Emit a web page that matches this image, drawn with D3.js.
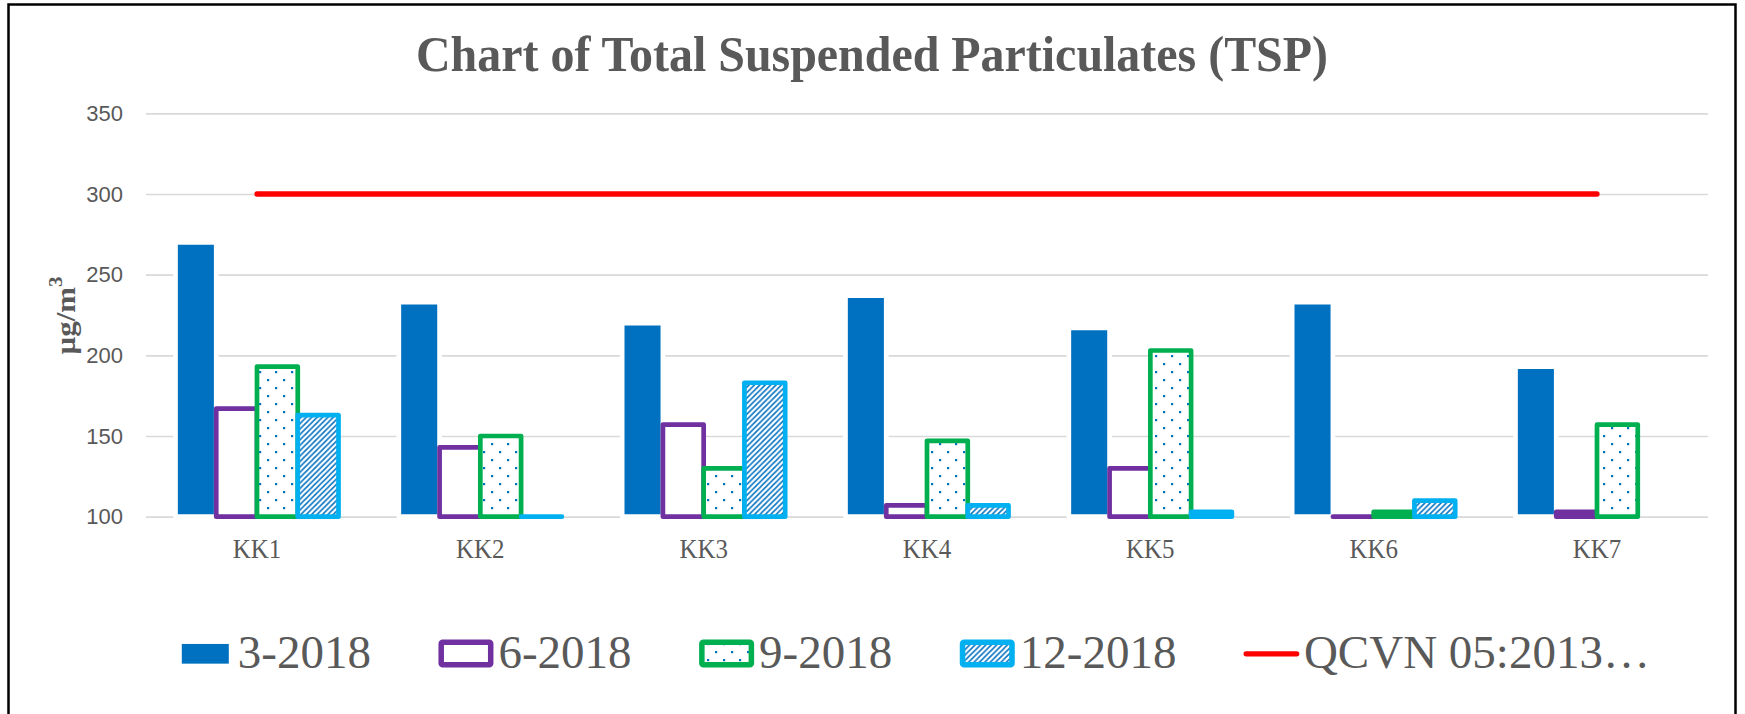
<!DOCTYPE html>
<html>
<head>
<meta charset="utf-8">
<script src="https://cdn.jsdelivr.net/npm/d3@7"></script>
<style>
  html, body { margin: 0; padding: 0; background: #ffffff; }
  svg { display: block; }
</style>
</head>
<body>
<svg id="chart" width="1745" height="714"></svg>
<script>
// ---------------- DATA ----------------
const categories = ["KK1", "KK2", "KK3", "KK4", "KK5", "KK6", "KK7"];
const seriesNames = ["3-2018", "6-2018", "9-2018", "12-2018"];
const values_3_2018  = [270, 233, 220, 237, 217, 233, 193];
const values_6_2018  = [167, 143, 157, 107, 130, 100, 103];
const values_9_2018  = [193, 150, 130, 147, 203, 103, 157];
const values_12_2018 = [163, 100, 183, 107, 103, 110, null];
const qcvnName = "QCVN 05:2013…";
const qcvnValues = [300, 300, 300, 300, 300, 300, 300];
const yTicks = [100, 150, 200, 250, 300, 350];
const titleText = "Chart of Total Suspended Particulates (TSP)";
const yTitleBase = "µg/m";
const yTitleSup = "3";

const seriesValues = [values_3_2018, values_6_2018, values_9_2018, values_12_2018];

// ---------------- STYLE ----------------
const textColor = "#595959";
const gridColor = "#D9D9D9";
const seriesStyle = [
  { fill: "#0070C0", stroke: "#FFFFFF" },
  { fill: "#FFFFFF", stroke: "#7030A0" },
  { fill: "url(#dots)", stroke: "#00B050" },
  { fill: "url(#hatch)", stroke: "#00B0F0" }
];
const barStroke = 4.7;

const svg = d3.select("#chart");
const W = 1745, H = 714;
svg.append("rect").attr("width", W).attr("height", H).attr("fill", "#fff");

// patterns
const defs = svg.append("defs");
const dots = defs.append("pattern").attr("id", "dots")
  .attr("patternUnits", "userSpaceOnUse").attr("width", 16).attr("height", 16);
dots.append("rect").attr("width", 16).attr("height", 16).attr("fill", "#fff");
dots.append("rect").attr("x", 3).attr("y", 3).attr("width", 2.2).attr("height", 2.2).attr("fill", "#0070C0");
dots.append("rect").attr("x", 11).attr("y", 11).attr("width", 2.2).attr("height", 2.2).attr("fill", "#0070C0");

const hs = 5.4;
const hatch = defs.append("pattern").attr("id", "hatch")
  .attr("patternUnits", "userSpaceOnUse").attr("width", hs).attr("height", hs);
hatch.append("rect").attr("width", hs).attr("height", hs).attr("fill", "#fff");
hatch.append("path")
  .attr("d", `M${-hs/2},${hs/2} L${hs/2},${-hs/2} M0,${hs} L${hs},0 M${hs/2},${hs*1.5} L${hs*1.5},${hs/2}`)
  .attr("stroke", "#0070C0").attr("stroke-width", 1.5);

// border
svg.append("rect").attr("x", 8.5).attr("y", 4.5).attr("width", 1727).attr("height", 730)
  .attr("fill", "none").attr("stroke", "#000").attr("stroke-width", 2.5);

// ---------------- SCALES ----------------
const plotLeft = 146, plotRight = 1708, plotTop = 113.3, plotBottom = 516.7;
const y = d3.scaleLinear().domain([100, 350]).range([plotBottom, plotTop]);
const x0 = d3.scaleBand().domain(categories).range([plotLeft, plotRight])
  .paddingInner(0.27).paddingOuter(0.132);
const x1 = d3.scaleBand().domain(seriesNames).range([0, x0.bandwidth()]).padding(0);

// ---------------- GRID + Y AXIS ----------------
const yAxis = d3.axisLeft(y).tickValues(yTicks)
  .tickSize(-(plotRight - plotLeft)).tickPadding(23).tickFormat(d3.format("d"));
const gy = svg.append("g").attr("transform", `translate(${plotLeft},0)`).call(yAxis);
gy.select(".domain").remove();
gy.selectAll(".tick line").attr("stroke", gridColor).attr("stroke-width", 1.7);
gy.selectAll(".tick text")
  .attr("fill", textColor)
  .style("font-family", "'Liberation Sans', Arial, sans-serif")
  .style("font-size", "22px");

// ---------------- BARS ----------------
function barPath(x, yTop, w, yBase) {
  return `M${x},${yBase} L${x},${yTop} L${x + w},${yTop} L${x + w},${yBase} Z`;
}
const gBars = svg.append("g");
categories.forEach((cat, ci) => {
  seriesNames.forEach((s, si) => {
    const v = seriesValues[si][ci];
    if (v === null || v === undefined) return;
    const bx = x0(cat) + x1(s);
    gBars.append("path")
      .attr("d", barPath(bx, y(v), x1.bandwidth(), y(100)))
      .attr("fill", seriesStyle[si].fill)
      .attr("stroke", seriesStyle[si].stroke)
      .attr("stroke-width", barStroke)
      .attr("stroke-linejoin", "round");
  });
});

// ---------------- QCVN LINE ----------------
const line = d3.line()
  .x((d, i) => x0(categories[i]) + x0.bandwidth() / 2)
  .y(d => y(d));
svg.append("path").datum(qcvnValues)
  .attr("d", line)
  .attr("fill", "none").attr("stroke", "#FF0000")
  .attr("stroke-width", 5.3).attr("stroke-linecap", "round");

// ---------------- X AXIS ----------------
const xAxis = d3.axisBottom(x0).tickSize(0).tickPadding(0);
const gx = svg.append("g").attr("transform", `translate(0,${plotBottom})`).call(xAxis);
gx.select(".domain").remove();
gx.selectAll(".tick text")
  .attr("y", 41).attr("dy", 0)
  .attr("fill", textColor)
  .attr("textLength", 48.5).attr("lengthAdjust", "spacingAndGlyphs")
  .style("font-family", "'Liberation Serif', 'Times New Roman', serif")
  .style("font-size", "28px");

// ---------------- TITLE ----------------
svg.append("text")
  .attr("x", 872).attr("y", 70.7)
  .attr("text-anchor", "middle")
  .attr("fill", textColor)
  .attr("textLength", 912).attr("lengthAdjust", "spacingAndGlyphs")
  .style("font-family", "'Liberation Serif', 'Times New Roman', serif")
  .style("font-weight", "bold")
  .style("font-size", "50px")
  .text(titleText);

// Y title (rotated, with superscript)
const gYT = svg.append("g");
const yt = gYT.append("text")
  .attr("x", 0).attr("y", 0)
  .attr("fill", textColor)
  .style("font-family", "'Liberation Serif', 'Times New Roman', serif")
  .style("font-weight", "bold")
  .style("font-size", "28px");
yt.append("tspan").text(yTitleBase);
yt.append("tspan").attr("dy", -13).style("font-size", "19px").text(yTitleSup);
const ytw = yt.node().getComputedTextLength();
const ytScale = 78 / ytw;
gYT.attr("transform", `translate(75,${315.5 + 39}) rotate(-90) scale(${ytScale},1)`);

// ---------------- LEGEND ----------------
const legendItems = seriesNames.map((n, i) => ({ name: n, type: "bar", idx: i }))
  .concat([{ name: qcvnName, type: "line" }]);
const gLeg = svg.append("g");
const legY = 653.8, legBaseline = 668.3;
let cx = 205.3;
legendItems.forEach(item => {
  if (item.type === "bar") {
    if (item.idx === 0) {
      gLeg.append("rect").attr("x", cx - 23.5).attr("y", legY - 9.85)
        .attr("width", 47).attr("height", 19.7).attr("fill", "#0070C0");
    } else {
      gLeg.append("rect").attr("x", cx - 24.75).attr("y", legY - 11.5)
        .attr("width", 49.5).attr("height", 22.5).attr("rx", 1.5)
        .attr("fill", seriesStyle[item.idx].fill)
        .attr("stroke", seriesStyle[item.idx].stroke)
        .attr("stroke-width", 5.5);
    }
  } else {
    gLeg.append("line").attr("x1", cx - 25.3).attr("x2", cx + 25.3)
      .attr("y1", legY).attr("y2", legY)
      .attr("stroke", "#FF0000").attr("stroke-width", 5.3).attr("stroke-linecap", "round");
  }
  const t = gLeg.append("text")
    .attr("x", cx + 32.5).attr("y", legBaseline)
    .attr("fill", textColor)
    .style("font-family", "'Liberation Serif', 'Times New Roman', serif")
    .style("font-size", "47px")
    .text(item.name);
  const tw = t.node().getComputedTextLength();
  cx = cx + 32.5 + tw + 95;
});
</script>
</body>
</html>
